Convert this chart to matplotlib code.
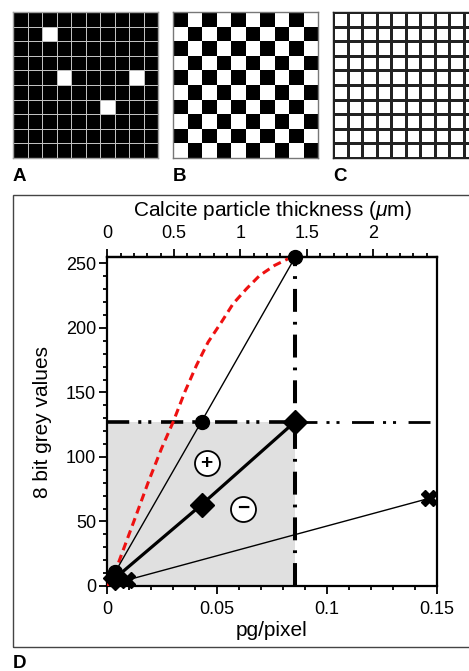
import numpy as np
import matplotlib
matplotlib.use("Agg")
import matplotlib.pyplot as plt
from matplotlib.patches import Rectangle
from matplotlib.ticker import MultipleLocator, FormatStrFormatter

plt.rcParams['font.family'] = ['Liberation Sans', 'DejaVu Sans']
plt.rcParams['mathtext.fontset'] = 'custom'
plt.rcParams['mathtext.it'] = 'Liberation Sans:italic'
plt.rcParams['mathtext.rm'] = 'Liberation Sans'
plt.rcParams['lines.scale_dashes'] = False

# panels A-C: '#' = black pixel, '.' = white pixel
grid_a = [
    "##########",
    "##.#######",
    "##########",
    "##########",
    "###.####.#",
    "##########",
    "######.###",
    "##########",
    "##########",
    "##########",
]
grid_b = [
    "#.#.#.#.#.",
    ".#.#.#.#.#",
    "#.#.#.#.#.",
    ".#.#.#.#.#",
    "#.#.#.#.#.",
    ".#.#.#.#.#",
    "#.#.#.#.#.",
    ".#.#.#.#.#",
    "#.#.#.#.#.",
    ".#.#.#.#.#",
]
grid_c = [".........."] * 10

# panel D data (pg/pixel vs 8 bit grey)
circle_x = [0.0035, 0.0429, 0.0856]
circle_y = [10.5, 127.5, 255]
diamond_x = [0.0035, 0.0429, 0.0856]
diamond_y = [6, 63, 127.5]
cross_x = [0.0088, 0.1467]
cross_y = [4.5, 68]
red_x = [0, 0.0050, 0.0126, 0.0187, 0.0247, 0.0300, 0.0353, 0.0406, 0.0459,
         0.0520, 0.0573, 0.0634, 0.0694, 0.0762, 0.0823]
red_y = [0, 17.6, 52.4, 80.7, 106.6, 127.2, 150.4, 171, 189,
         204.6, 218.8, 230.4, 240.7, 248.5, 253.6]
sat_x = 0.0856
half_y = 127.5
um_per_pg = 16.5

W, H = 469, 671
fig = plt.figure(figsize=(W / 100, H / 100), dpi=100)


def draw_pattern(x0, rows, edge, lw, border):
    ax = fig.add_axes([x0 / W, (H - 158) / H, 145 / W, 146 / H])
    vals = np.array([[0 if c == '#' else 1 for c in r] for r in rows])
    ax.pcolormesh(vals, cmap='gray', vmin=0, vmax=1,
                  edgecolors=edge, linewidth=lw)
    ax.set_xlim(0, 10)
    ax.set_ylim(10, 0)
    ax.set_xticks([])
    ax.set_yticks([])
    for s in ax.spines.values():
        s.set_color(border)
        s.set_linewidth(1.0)
    return ax


draw_pattern(13, grid_a, '#c0c0c0', 0.7, '#a0a0a0')
draw_pattern(173, grid_b, 'none', 0, '#777777')
draw_pattern(333, grid_c, '#222222', 0.8, '#222222')

for lab, x in [('A', 13), ('B', 173), ('C', 333)]:
    fig.text(x / W, 1 - 181 / H, lab, fontsize=13.5, fontweight='bold',
             ha='left', va='baseline')
fig.text(13 / W, 1 - 668 / H, 'D', fontsize=13.5, fontweight='bold',
         ha='left', va='baseline')

# frame around panel D
fig.patches.append(Rectangle((13 / W, 24 / H), 1.0, (647 - 195) / H,
                             transform=fig.transFigure, fill=False,
                             ec='#444444', lw=1.0))

ax = fig.add_axes([107.3 / W, 85 / H, 329.4 / W, 329 / H])
ax.set_xlim(0, 0.15)
ax.set_ylim(0, 255)

ax.fill_between([0, sat_x], 0, half_y, color='#e0e0e0', lw=0, zorder=0)

# dash-dot guide lines
ax.plot([0, sat_x], [half_y, half_y], color='black', lw=2.6,
        dashes=(16, 6.5, 2.2, 5, 2.2, 7), zorder=2)
ax.plot([sat_x, 0.15], [half_y, half_y], color='black', lw=2.0,
        dashes=(15.8, 6.5, 2.2, 5, 2.2, 9), zorder=2)
ax.plot([sat_x, sat_x], [0, 255], color='black', lw=2.9,
        dashes=(16.5, 7.2, 2.0, 7.2), zorder=2)

ax.plot(red_x, red_y, color='#ee1111', lw=2.2, dashes=(5.8, 3.6), zorder=3)

ax.plot(circle_x, circle_y, color='black', lw=1.0, zorder=4)
ax.plot(diamond_x, diamond_y, color='black', lw=2.3, zorder=4)
ax.plot(cross_x, cross_y, color='black', lw=1.0, zorder=4)

ax.plot(circle_x, circle_y, 'o', color='black', ms=10, zorder=5, clip_on=False)
ax.plot(diamond_x, diamond_y, 'D', color='black', ms=12, zorder=5, clip_on=False)
ax.plot(cross_x, cross_y, 'X', color='black', ms=11, mew=1.0, zorder=5, clip_on=False)

for sx, sy, sym in [(0.0452, 95, '+'), (0.0618, 60, '\u2212')]:
    ax.plot(sx, sy, 'o', ms=18, mfc='white', mec='black', mew=1.3, zorder=6)
    ax.text(sx, sy, sym, fontsize=15, fontweight='bold', ha='center',
            va='center', zorder=7)

ax.xaxis.set_major_locator(MultipleLocator(0.05))
ax.xaxis.set_minor_locator(MultipleLocator(0.01))
ax.xaxis.set_major_formatter(FormatStrFormatter('%g'))
ax.yaxis.set_major_locator(MultipleLocator(50))
ax.yaxis.set_minor_locator(MultipleLocator(10))
ax.tick_params(which='both', direction='out', top=False, right=False,
               width=1.3, labelsize=13)
ax.tick_params(which='major', length=6)
ax.tick_params(which='minor', length=3)
ax.tick_params(axis='x', pad=5)
ax.tick_params(axis='y', pad=2)
for s in ax.spines.values():
    s.set_linewidth(1.6)

ax.set_xlabel('pg/pixel', fontsize=15)
ax.xaxis.set_label_coords(0.5, -0.105)
ax.xaxis.label.set_va('top')
ax.set_ylabel('8 bit grey values', fontsize=15)
ax.yaxis.set_label_coords(-0.198, 0.5)
ax.yaxis.label.set_va('center')

sec = ax.secondary_xaxis('top', functions=(lambda x: x * um_per_pg,
                                           lambda x: x / um_per_pg))
sec.xaxis.set_major_locator(MultipleLocator(0.5))
sec.xaxis.set_minor_locator(MultipleLocator(0.1))
sec.xaxis.set_major_formatter(FormatStrFormatter('%g'))
sec.tick_params(which='both', direction='out', width=1.3, labelsize=13, pad=5)
sec.tick_params(which='major', length=6)
sec.tick_params(which='minor', length=3)
sec.spines['top'].set_linewidth(1.6)
sec.set_xlabel(r'Calcite particle thickness ($\mu$m)', fontsize=15, labelpad=6)

fig.savefig('out.png', dpi=100)
